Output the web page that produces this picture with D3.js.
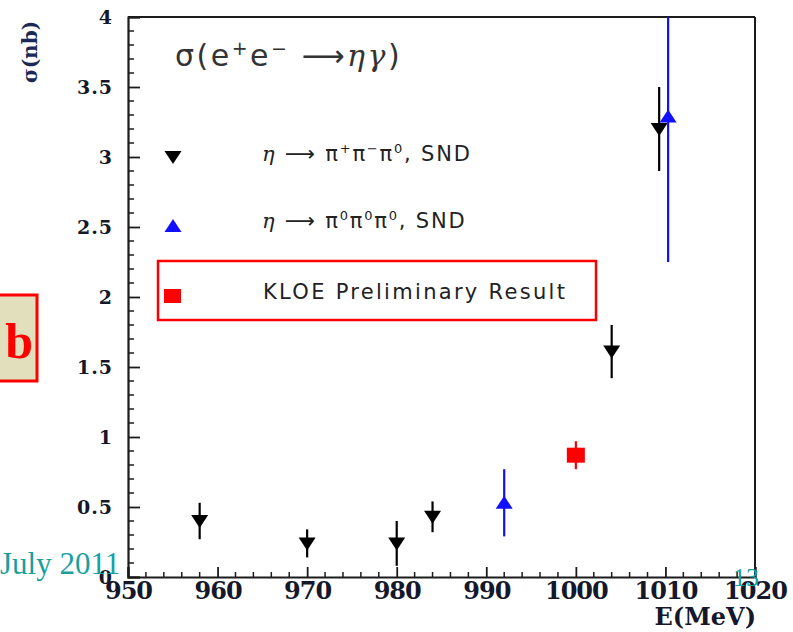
<!DOCTYPE html>
<html><head><meta charset="utf-8">
<script src="https://cdn.jsdelivr.net/npm/d3@7/dist/d3.min.js"></script>
<style>
html,body{margin:0;padding:0;background:#fff;}
svg{display:block;}
</style></head>
<body><svg id="c" width="793" height="632"></svg>
<script>
// ---- data ----
const xTicks = [950, 960, 970, 980, 990, 1000, 1010, 1020];
const yTicks = [0, 0.5, 1, 1.5, 2, 2.5, 3, 3.5, 4];
const yTickLabels = ["0", "0.5", "1", "1.5", "2", "2.5", "3", "3.5", "4"];
// eta -> pi+ pi- pi0, SND (black, down triangles)
const sndChargedE = [958, 970, 980, 984, 1004, 1009.3];
const sndChargedSigma = [0.40, 0.24, 0.24, 0.43, 1.61, 3.20];
const sndChargedErr = [0.13, 0.10, 0.16, 0.11, 0.19, 0.30];
// eta -> 3 pi0, SND (blue, up triangles)
const sndNeutralE = [992, 1010.3];
const sndNeutralSigma = [0.53, 3.29];
const sndNeutralErr = [0.24, 1.04];
// KLOE preliminary (red square)
const kloeE = [1000];
const kloeSigma = [0.87];
const kloeErr = [0.10];

const svg = d3.select("#c");
const L = 128, R = 755, T = 17, B = 577;
const x = d3.scaleLinear().domain([950, 1020]).range([L, R]);
const y = d3.scaleLinear().domain([0, 4]).range([B, T]);

const axisColor = "#1c1c1c";
const labFont = "'DejaVu Serif', serif";

// frame (top and right)
svg.append("line").attr("x1", L).attr("x2", R).attr("y1", T).attr("y2", T)
  .attr("stroke", axisColor).attr("stroke-width", 2);
svg.append("line").attr("x1", R).attr("x2", R).attr("y1", T).attr("y2", B)
  .attr("stroke", axisColor).attr("stroke-width", 2);

// y axis
const yAxis = d3.axisLeft(y).tickValues(yTicks)
  .tickFormat((d, i) => yTickLabels[i]).tickSize(-12).tickPadding(15);
const gy = svg.append("g").attr("transform", `translate(${L},0)`).call(yAxis);
const yMinor = d3.range(0, 4.0001, 0.1).filter(v => Math.abs(v * 2 - Math.round(v * 2)) > 1e-6);
gy.selectAll(".minor").data(yMinor).join("line").attr("class", "minor")
  .attr("x1", 0).attr("x2", 6).attr("y1", d => y(d)).attr("y2", d => y(d))
  .attr("stroke", axisColor).attr("stroke-width", 1.5);

// x axis
const xAxis = d3.axisBottom(x).tickValues(xTicks).tickFormat(d3.format("d"))
  .tickSize(-10).tickPadding(5);
const gx = svg.append("g").attr("transform", `translate(0,${B})`).call(xAxis);
const xMinor = d3.range(950, 1020.001, 2).filter(v => v % 10 !== 0);
gx.selectAll(".minor").data(xMinor).join("line").attr("class", "minor")
  .attr("x1", d => x(d)).attr("x2", d => x(d)).attr("y1", 0).attr("y2", -5)
  .attr("stroke", axisColor).attr("stroke-width", 1.5);

[gx, gy].forEach(g => {
  g.select(".domain").attr("stroke", axisColor).attr("stroke-width", 2.2);
  g.selectAll(".tick line").attr("stroke", axisColor).attr("stroke-width", 1.8);
  g.selectAll(".tick text").attr("fill", "#14182a").attr("font-family", labFont)
    .attr("font-weight", "bold");
});
gy.selectAll(".tick text").attr("font-size", 19).attr("letter-spacing", 1);
gx.selectAll(".tick text").attr("font-size", 24).attr("letter-spacing", -1);

// axis titles
svg.append("text").attr("x", 756).attr("y", 625).attr("text-anchor", "end")
  .attr("font-family", labFont).attr("font-weight", "bold").attr("font-size", 24)
  .attr("fill", "#14182a").text("E(MeV)");
svg.append("text").attr("transform", "translate(37,52) rotate(-90)")
  .attr("text-anchor", "middle").attr("font-family", labFont).attr("font-weight", "bold")
  .attr("font-size", 20).attr("fill", "#1a2a55").text("σ(nb)");

// markers
function downTri(cx, cy) { return `M${cx - 8.5},${cy - 6}L${cx + 8.5},${cy - 6}L${cx},${cy + 7}Z`; }
function upTri(cx, cy) { return `M${cx - 8.5},${cy + 6}L${cx + 8.5},${cy + 6}L${cx},${cy - 7}Z`; }

const plot = svg.append("g");
plot.append("clipPath").attr("id", "clip").append("rect")
  .attr("x", L).attr("y", T).attr("width", R - L).attr("height", B - T);
const pg = plot.append("g").attr("clip-path", "url(#clip)");

function series(E, S, Er, color, shape) {
  const g = pg.append("g");
  g.selectAll("line").data(E).join("line")
    .attr("x1", d => x(d)).attr("x2", d => x(d))
    .attr("y1", (d, i) => y(S[i] + Er[i])).attr("y2", (d, i) => y(S[i] - Er[i]))
    .attr("stroke", color).attr("stroke-width", 2.2);
  if (shape === "square") {
    g.selectAll("rect").data(E).join("rect")
      .attr("x", d => x(d) - 9).attr("y", (d, i) => y(S[i]) - 7.5)
      .attr("width", 18).attr("height", 15).attr("fill", color);
  } else {
    g.selectAll("path").data(E).join("path")
      .attr("d", (d, i) => shape === "down" ? downTri(x(d), y(S[i])) : upTri(x(d), y(S[i])))
      .attr("fill", color);
  }
}
series(sndChargedE, sndChargedSigma, sndChargedErr, "#000", "down");
series(sndNeutralE, sndNeutralSigma, sndNeutralErr, "#1010ff", "up");
series(kloeE, kloeSigma, kloeErr, "#ff0000", "square");

// title
const title = svg.append("text").attr("x", 175).attr("y", 66)
  .attr("font-family", "'DejaVu Sans', sans-serif").attr("font-size", 30)
  .attr("letter-spacing", 2.5).attr("fill", "#333");
title.append("tspan").text("σ(e");
title.append("tspan").attr("dy", -11).attr("font-size", 19).text("+");
title.append("tspan").attr("dy", 11).text("e");
title.append("tspan").attr("dy", -11).attr("font-size", 19).text("−");
title.append("tspan").attr("dy", 11).text(" ⟶");
title.append("tspan").attr("font-family", "'DejaVu Serif', serif").attr("font-style", "italic").text("ηγ");
title.append("tspan").text(")");

// legend
const legFont = "'DejaVu Sans', sans-serif";
svg.append("path").attr("d", downTri(173, 157)).attr("fill", "#000");
svg.append("path").attr("d", upTri(173, 226)).attr("fill", "#1010ff");
svg.append("rect").attr("x", 164).attr("y", 289).attr("width", 17).attr("height", 14).attr("fill", "#ff0000");
function legText(yy, parts) {
  const t = svg.append("text").attr("x", 262).attr("y", yy)
    .attr("font-family", legFont).attr("font-size", 21).attr("letter-spacing", 1.8).attr("fill", "#222");
  parts.forEach(p => {
    const s = t.append("tspan").text(p[0]);
    if (p[1]) s.attr("dy", p[1]);
    if (p[2]) s.attr("font-size", p[2]);
    if (p[3]) s.attr("font-family", p[3]).attr("font-style", "italic");
  });
}
legText(161, [["η", 0, 0, "'DejaVu Serif', serif"], [" ⟶ π"], ["+", -8, 13], ["π", 8], ["−", -8, 13], ["π", 8], ["0", -8, 13], [", SND", 8]]);
legText(228, [["η", 0, 0, "'DejaVu Serif', serif"], [" ⟶ π"], ["0", -8, 13], ["π", 8], ["0", -8, 13], ["π", 8], ["0", -8, 13], [", SND", 8]]);
svg.append("rect").attr("x", 158).attr("y", 261).attr("width", 438).attr("height", 59)
  .attr("fill", "none").attr("stroke", "#ff0000").attr("stroke-width", 2.5);
svg.append("text").attr("x", 263).attr("y", 299).attr("font-family", legFont)
  .attr("font-size", 21).attr("fill", "#222").attr("letter-spacing", 2.3).text("KLOE Preliminary Result");

// slide overlays
svg.append("rect").attr("x", -10).attr("y", 295).attr("width", 47).attr("height", 86)
  .attr("fill", "#e2e0bc").attr("stroke", "#ff0000").attr("stroke-width", 3);
svg.append("text").attr("x", 33).attr("y", 358).attr("text-anchor", "end")
  .attr("font-family", "'Liberation Serif', serif").attr("font-weight", "bold")
  .attr("font-size", 50).attr("fill", "#ff0000").text("b");
svg.append("text").attr("x", 0).attr("y", 574).attr("font-family", "'Liberation Serif', serif")
  .attr("font-size", 31).attr("fill", "#17a0a0").text("July 2011");
svg.append("text").attr("x", 733).attr("y", 586).attr("font-family", "'Liberation Serif', serif")
  .attr("font-size", 26).attr("fill", "#17a0a0").text("13");
</script></body></html>
